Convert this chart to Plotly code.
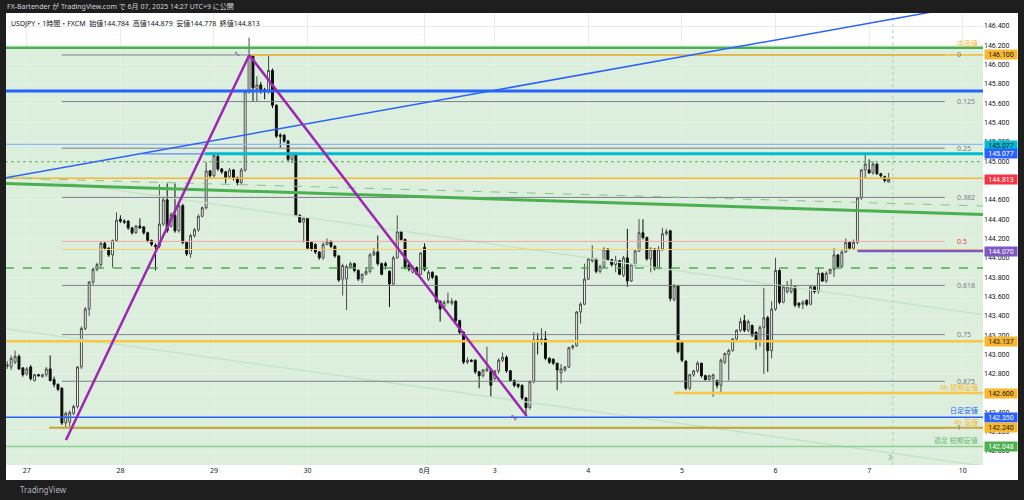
import plotly.graph_objects as go

# ---------------- candle data (USDJPY 1h) ----------------
open_ = [142.88,142.87,142.92,142.98,142.86,142.80,142.87,142.73,142.79,142.77,
         142.79,142.85,142.74,142.69,142.65,142.29,142.30,142.39,142.46,142.87,
         143.27,143.47,143.75,143.88,143.93,144.15,144.10,144.03,144.18,144.40,
         144.38,144.38,144.31,144.26,144.33,144.32,144.26,144.18,144.13,144.12,
         144.35,144.60,144.33,144.44,144.28,144.54,144.16,144.04,144.23,144.29,
         144.43,144.52,144.90,144.85,145.05,144.92,144.89,144.84,144.91,144.83,
         144.78,144.91,145.72,146.09,145.75,145.79,145.74,145.72,145.94,145.58,
         145.27,145.27,145.21,145.02,145.08,144.44,144.37,144.41,144.16,144.14,
         144.06,144.00,144.14,144.17,144.12,144.02,143.78,143.78,143.91,143.94,
         143.87,143.78,143.83,143.86,144.03,144.06,143.94,143.94,143.86,143.73,
         144.00,144.27,144.19,143.93,143.85,143.90,143.83,144.11,143.78,143.85,
         143.81,143.55,143.49,143.54,143.53,143.55,143.35,143.23,142.92,142.94,
         142.94,142.82,142.78,142.83,142.83,142.75,142.83,142.94,142.97,142.83,
         142.73,142.69,142.68,142.55,142.45,142.72,143.15,143.13,143.16,142.96,
         142.95,142.91,142.81,142.84,142.87,143.07,143.09,143.44,143.52,143.78,
         143.97,143.99,143.86,143.91,144.09,143.98,143.93,143.97,143.82,144.00,
         143.76,143.93,144.07,144.26,144.21,143.99,144.09,143.89,144.09,144.25,
         144.28,143.57,143.71,143.14,142.93,142.65,142.79,142.83,142.91,142.78,
         142.74,142.75,142.73,142.68,142.92,143.00,143.04,143.16,143.25,143.35,
         143.25,143.30,143.23,143.14,143.28,143.38,143.04,143.47,143.87,143.54,
         143.65,143.65,143.70,143.53,143.52,143.56,143.52,143.70,143.65,143.84,
         143.76,143.84,143.88,144.03,143.91,144.06,144.16,144.10,144.16,144.62,
         144.91,144.91,144.88,144.97,144.87,144.84,144.784]
high = [142.93,142.99,143.04,143.00,142.87,142.87,142.89,142.80,142.80,142.80,
        142.87,142.99,142.77,142.70,142.66,142.41,142.42,142.48,142.88,143.29,
        143.49,143.76,143.90,143.95,144.17,144.17,144.11,144.19,144.47,144.44,
        144.40,144.39,144.32,144.34,144.41,144.33,144.27,144.19,144.15,144.76,
        144.62,144.77,144.47,144.77,144.56,144.56,144.17,144.25,144.31,144.45,
        144.53,144.99,144.91,145.07,145.07,144.93,144.90,144.93,144.92,144.84,
        144.93,145.74,146.28,146.10,145.88,145.82,145.76,146.09,145.96,145.59,
        145.29,145.28,145.22,145.09,145.09,144.45,144.42,144.42,144.17,144.15,
        144.07,144.16,144.20,144.18,144.13,144.03,143.94,143.93,143.96,143.95,
        143.88,143.84,143.90,144.05,144.10,144.23,143.95,143.96,143.87,144.02,
        144.44,144.28,144.20,143.94,143.92,143.91,144.06,144.15,143.87,143.86,
        143.82,143.56,143.56,143.64,143.58,143.56,143.36,143.24,142.97,142.95,
        142.95,142.83,142.85,143.08,142.84,142.84,142.96,143.02,142.99,142.84,
        142.74,142.70,142.69,142.56,142.73,143.23,143.22,143.27,143.24,142.97,
        142.96,142.91,142.90,142.88,143.08,143.10,143.45,143.54,143.94,144.00,
        144.13,144.00,143.93,144.11,144.10,143.99,144.02,143.98,144.02,144.30,
        143.94,144.09,144.40,144.40,144.22,144.11,144.10,144.12,144.31,144.30,
        144.29,143.73,143.72,143.15,142.94,142.80,142.84,142.93,142.91,142.79,
        142.79,142.80,142.74,142.96,143.02,143.06,143.17,143.26,143.38,143.41,
        143.36,143.31,143.24,143.30,143.69,143.40,143.55,144.00,143.88,143.71,
        143.76,143.78,143.71,143.54,143.56,143.57,143.72,143.71,143.90,143.85,
        143.86,143.89,144.10,144.04,144.08,144.20,144.17,144.19,144.63,144.92,
        145.07,145.02,145.00,144.98,144.88,144.85,144.879]
low = [142.85,142.84,142.90,142.84,142.77,142.78,142.73,142.72,142.77,142.76,
       142.77,142.72,142.66,142.62,142.27,142.24,142.25,142.37,142.44,142.85,
       143.25,143.40,143.72,143.86,143.90,144.08,144.01,143.90,144.17,144.36,
       144.35,144.29,144.24,144.25,144.30,144.24,144.16,144.12,143.87,144.10,
       144.33,144.26,144.31,144.26,144.26,144.14,144.02,144.00,144.21,144.27,
       144.42,144.50,144.83,144.83,144.90,144.87,144.77,144.82,144.80,144.75,
       144.76,144.89,145.70,145.62,145.62,145.70,145.64,145.70,145.55,145.24,
       145.14,145.19,145.00,144.98,144.43,144.36,144.16,144.08,144.07,144.04,
       143.98,143.98,144.13,144.10,144.00,143.75,143.61,143.46,143.89,143.85,
       143.76,143.74,143.82,143.84,144.02,143.92,143.82,143.88,143.49,143.71,
       143.99,144.18,143.88,143.86,143.84,143.82,143.82,143.86,143.76,143.78,
       143.53,143.34,143.47,143.52,143.51,143.33,143.21,142.90,142.90,142.92,
       142.80,142.65,142.76,142.82,142.56,142.73,142.80,142.92,142.81,142.72,
       142.66,142.65,142.53,142.36,142.43,142.70,143.00,143.10,142.94,142.90,
       142.89,142.63,142.70,142.82,142.86,143.05,143.08,143.32,143.51,143.77,
       143.95,143.84,143.84,143.90,143.97,143.91,143.85,143.82,143.80,143.70,
       143.75,143.91,144.06,144.19,143.97,143.85,143.87,143.88,144.07,144.23,
       143.55,143.55,143.01,142.92,142.63,142.63,142.77,142.81,142.76,142.73,
       142.73,142.56,142.65,142.60,142.90,142.73,143.03,143.14,143.23,143.23,
       143.23,143.18,143.05,143.08,142.80,142.82,142.96,143.45,143.52,143.53,
       143.63,143.63,143.49,143.48,143.47,143.50,143.51,143.63,143.63,143.75,
       143.74,143.83,143.80,143.89,143.90,144.05,144.08,144.08,144.14,144.60,
       144.82,144.87,144.86,144.86,144.83,144.78,144.778]
close = [142.89,142.96,142.98,142.85,142.79,142.85,142.75,142.79,142.78,142.79,
         142.85,142.73,142.69,142.64,142.29,142.39,142.40,142.46,142.87,143.27,
         143.47,143.75,143.88,143.93,144.15,144.10,144.03,144.18,144.39,144.38,
         144.37,144.31,144.26,144.33,144.31,144.26,144.18,144.14,144.12,144.35,
         144.60,144.28,144.45,144.28,144.54,144.16,144.04,144.23,144.29,144.43,
         144.52,144.90,144.85,145.06,144.92,144.89,144.83,144.91,144.83,144.78,
         144.91,145.72,146.09,145.76,145.79,145.74,145.72,145.94,145.58,145.26,
         145.26,145.21,145.02,145.08,144.44,144.37,144.41,144.10,144.09,144.06,
         144.00,144.14,144.17,144.12,144.02,143.77,143.92,143.91,143.94,143.87,
         143.78,143.83,143.86,144.03,144.06,143.94,143.83,143.92,143.73,144.00,
         144.27,144.19,143.90,143.88,143.90,143.83,144.05,143.88,143.85,143.80,
         143.55,143.47,143.54,143.55,143.55,143.35,143.23,142.92,142.94,142.93,
         142.82,142.78,142.84,142.85,142.68,142.83,142.94,142.97,142.83,142.73,
         142.68,142.67,142.55,142.45,142.72,143.15,143.13,143.16,142.96,142.92,
         142.91,142.84,142.85,142.87,143.07,143.09,143.44,143.52,143.78,143.99,
         144.00,143.86,143.91,144.09,143.98,143.93,143.97,143.83,144.00,143.76,
         143.93,144.07,144.26,144.21,143.99,144.09,143.89,144.09,144.25,144.27,
         143.58,143.71,143.03,142.94,142.65,142.79,142.83,142.91,142.78,142.74,
         142.78,142.79,142.68,142.94,143.01,143.04,143.16,143.25,143.34,143.25,
         143.34,143.20,143.14,143.28,143.38,143.04,143.47,143.87,143.54,143.70,
         143.70,143.70,143.51,143.51,143.54,143.52,143.70,143.65,143.84,143.76,
         143.84,143.88,144.03,143.91,144.06,144.16,144.10,144.16,144.62,144.91,
         144.97,144.88,144.97,144.87,144.85,144.80,144.813]

# time axis labels (candle index of each day start)
day_ticks = [5, 29, 53, 77, 107, 125, 149, 173, 197, 221, 245]
day_labels = ['27', '28', '29', '30', '6月', '3', '4', '5', '6', '7', '10']
y_ticks = [142.0, 142.2, 142.4, 142.6, 142.8, 143.0, 143.2, 143.4, 143.6, 143.8,
           144.0, 144.2, 144.4, 144.6, 144.8, 145.0, 145.2, 145.4, 145.6, 145.8,
           146.0, 146.2, 146.4]

# Fibonacci retracement
fib_ratios = [0, 0.125, 0.25, 0.382, 0.5, 0.618, 0.75, 0.875, 1]
fib_labels = ['0', '0.125', '0.25', '0.382', '0.5', '0.618', '0.75', '0.875', '1']
fib_high, fib_low = 146.100, 142.240
fib_start, fib_end = 14.0, 240.4

# horizontal levels: name -> price, start index
level_names = ['range_top', 'mid_high', 'blue_thick', 'blue_light', 'blue_145', 'cyan_145',
               'green_dot', 'gold_last', 'gold_thin', 'purple', 'green_dash', 'gold_143',
               'gold_4h_short', 'blue_daily', 'gold_4h_low', 'green_weekly']
level_prices = [146.175, 146.100, 145.727, 145.175, 145.077, 145.077,
                144.995, 144.823, 144.086, 144.070, 143.895, 143.137,
                142.600, 142.350, 142.240, 142.048]
level_starts = [-0.6, 62.0, -0.6, -0.6, 34.8, 50.7,
                -0.6, -0.6, 14.0, 218.0, -0.6, -0.6,
                171.0, -0.6, 10.7, -0.6]

# trend lines: (index, price) endpoints
blue_trend = [(-0.6, 144.827), (250.2, 146.640)]
green_trend = [(-0.6, 144.770), (250.2, 144.449)]
green_dash_trend = [(-0.6, 144.827), (250.2, 144.537)]
faint_upper = [(-0.6, 144.868), (250.2, 143.412)]
faint_lower = [(-0.6, 143.267), (250.2, 141.845)]
zigzag = [(15.05, 142.114), (62.05, 146.100), (133.2, 142.363)]
session_break = 227.1

# price tags on the right scale
tag_prices = [146.100, 145.168, 145.077, 144.813, 144.070, 143.137, 142.600, 142.350, 142.240, 142.048]
tag_texts = ['146.100', '145.077', '145.077', '144.813', '144.070', '143.137', '142.600', '142.350', '142.240', '142.048']
tag_bg = ['#f9b730', '#00bcd4', '#2962ff', '#f23645', '#7e57c2', '#f9b730', '#f9b730', '#2962ff', '#f9b730', '#4caf50']
tag_fg = ['#131722', '#131722', '#ffffff', '#ffffff', '#ffffff', '#131722', '#131722', '#ffffff', '#131722', '#ffffff']

# small right-side text labels
side_texts = ['中高値', '4h 短期安値', '日足安値', '4h 安値', '週足 短期安値']
side_prices = [146.22, 142.655, 142.415, 142.300, 142.105]
side_colors = ['#f9b730', '#f9b730', '#2962ff', '#f9b730', '#66bb6a']

X_MIN, X_MAX = -0.33, 250.2
Y_MIN, Y_MAX = 141.8555, 146.5346

fig = go.Figure()
fig.add_trace(go.Candlestick(
    x=list(range(len(open_))), open=open_, high=high, low=low, close=close,
    increasing=dict(fillcolor='#ffffff', line=dict(color='#4a4a4a', width=1)),
    decreasing=dict(fillcolor='#0d0d0d', line=dict(color='#0d0d0d', width=1)),
    whiskerwidth=0, hoverinfo='skip', showlegend=False))

shapes = []
# white panel
shapes.append(dict(type='rect', xref='paper', yref='paper', x0=0, x1=(1018 - 6) / 977,
                   y0=(465 - 480) / 452, y1=1.0, fillcolor='#ffffff', line=dict(width=0), layer='below'))
# green zone
shapes.append(dict(type='rect', xref='x', yref='y', x0=-1, x1=X_MAX, y0=141.0, y1=level_prices[0],
                   fillcolor='rgba(76,175,80,0.2)', line=dict(width=0), layer='below'))

def seg(x0, y0, x1, y1, color, width, dash='solid'):
    shapes.append(dict(type='line', xref='x', yref='y', x0=x0, y0=y0, x1=x1, y1=y1,
                       line=dict(color=color, width=width, dash=dash), layer='above'))

# faint lines & session break first
seg(faint_upper[0][0], faint_upper[0][1], faint_upper[1][0], faint_upper[1][1], '#c4e2c5', 1.3)
seg(faint_lower[0][0], faint_lower[0][1], faint_lower[1][0], faint_lower[1][1], '#c4e2c5', 1.3)
shapes.append(dict(type='line', xref='x', yref='paper', x0=session_break, x1=session_break, y0=0, y1=1,
                   line=dict(color='#a5d6a7', width=1, dash='dot'), layer='above'))

# fib
for r, lab in zip(fib_ratios, fib_labels):
    p = fib_high - (fib_high - fib_low) * r
    col = '#f7a4a4' if lab == '0.5' else '#7c8089'
    seg(fib_start, p, fib_end, p, col, 1)

styles = {
    'range_top': ('#4caf50', 2.5, 'solid'),
    'mid_high': ('#f9b730', 1.5, 'solid'),
    'blue_thick': ('#2962ff', 3, 'solid'),
    'blue_light': ('#90b8f8', 1.2, 'solid'),
    'blue_145': ('#5b8cff', 1.2, 'solid'),
    'cyan_145': ('#00bcd4', 3, 'solid'),
    'green_dot': ('#4caf50', 1.2, 'dot'),
    'gold_last': ('#f9b730', 1.5, 'solid'),
    'gold_thin': ('#f7cf6d', 1, 'solid'),
    'purple': ('#7e57c2', 2.5, 'solid'),
    'green_dash': ('#4caf50', 1.5, 'dash'),
    'gold_143': ('#f7c548', 2.5, 'solid'),
    'gold_4h_short': ('#f7c548', 2.5, 'solid'),
    'blue_daily': ('#2962ff', 1.5, 'solid'),
    'gold_4h_low': ('#c9a43a', 2, 'solid'),
    'green_weekly': ('#8fcf92', 1.5, 'solid'),
}
for name, p, s in zip(level_names, level_prices, level_starts):
    c, w, d = styles[name]
    seg(s, p, X_MAX, p, c, w, d)

seg(green_dash_trend[0][0], green_dash_trend[0][1], green_dash_trend[1][0], green_dash_trend[1][1], '#81c784', 1, 'dash')
seg(green_trend[0][0], green_trend[0][1], green_trend[1][0], green_trend[1][1], '#4caf50', 3)
seg(blue_trend[0][0], blue_trend[0][1], blue_trend[1][0], blue_trend[1][1], '#2962ff', 1.5)
for (a, b), (c, d) in zip(zigzag[:-1], zigzag[1:]):
    seg(a, b, c, d, '#9c27b0', 2.5)

annotations = []
FONT = 'Noto Sans, Noto Sans CJK JP, sans-serif'
# fib labels
for r, lab in zip(fib_ratios, fib_labels):
    p = fib_high - (fib_high - fib_low) * r
    annotations.append(dict(xref='paper', yref='y', x=(955 - 6) / 977, y=p, xanchor='left', yanchor='middle',
                            text=lab, showarrow=False,
                            font=dict(family=FONT, size=7, color='#f23645' if lab == '0.5' else '#787b86')))
# side texts
for t, p, c in zip(side_texts, side_prices, side_colors):
    annotations.append(dict(xref='paper', yref='y', x=(980 - 6) / 977, y=p, xanchor='right', yanchor='middle',
                            text=t, showarrow=False, font=dict(family=FONT, size=7, color=c)))
# price tags
for p, t, bg, fg in zip(tag_prices, tag_texts, tag_bg, tag_fg):
    annotations.append(dict(xref='paper', yref='y', x=(984 - 6) / 977, y=p, xanchor='left', yanchor='middle',
                            text=t, showarrow=False, bgcolor=bg, width=32, height=9, borderpad=0,
                            font=dict(family='Roboto, sans-serif', size=7, color=fg)))
# zigzag point labels
annotations.append(dict(xref='x', yref='y', x=zigzag[1][0] - 3.2, y=zigzag[1][1] + 0.02, text='1', showarrow=False,
                        textangle=-40, font=dict(family=FONT, size=8, color='#9c27b0')))
annotations.append(dict(xref='x', yref='y', x=zigzag[2][0] - 3.3, y=zigzag[2][1] - 0.01, text='2', showarrow=False,
                        textangle=-60, font=dict(family=FONT, size=8, color='#9c27b0')))
annotations.append(dict(xref='x', yref='y', x=session_break - 0.7, y=141.93, text='3', showarrow=False,
                        font=dict(family=FONT, size=7, color='#8a9a8c')))
# header / legend / footer
annotations.append(dict(xref='paper', yref='paper', x=(5 - 6) / 977, y=(465 - 6.5) / 452, xanchor='left',
                        yanchor='middle', showarrow=False,
                        text='FX-Bartender が TradingView.com で 6月 07, 2025 14:27 UTC+9 に公開',
                        font=dict(family=FONT, size=7, color='#d1d4dc')))
annotations.append(dict(xref='paper', yref='paper', x=(9 - 6) / 977, y=(465 - 23.5) / 452, xanchor='left',
                        yanchor='middle', showarrow=False,
                        text='USDJPY・1時間・FXCM  始値144.784  高値144.879  安値144.778  終値144.813',
                        font=dict(family=FONT, size=7, color='#131722')))
annotations.append(dict(xref='paper', yref='paper', x=(18 - 6) / 977, y=(465 - 490) / 452, xanchor='left',
                        yanchor='middle', showarrow=False, text='TradingView',
                        font=dict(family=FONT, size=8, color='#b2b5be')))

fig.update_layout(
    width=1024, height=500,
    margin=dict(l=6, r=41, t=13, b=35),
    paper_bgcolor='#1e1e1e', plot_bgcolor='#ffffff',
    showlegend=False, hovermode=False,
    shapes=shapes, annotations=annotations,
    xaxis=dict(range=[X_MIN, X_MAX], tickmode='array', tickvals=day_ticks, ticktext=day_labels,
               showgrid=True, gridcolor='#e6eee8', gridwidth=1, zeroline=False, showline=False,
               ticks='', rangeslider=dict(visible=False), fixedrange=True,
               tickfont=dict(family=FONT, size=7, color='#131722')),
    yaxis=dict(range=[Y_MIN, Y_MAX], side='right', tickmode='array', tickvals=y_ticks, tickformat='.3f',
               showgrid=True, gridcolor='#e6eee8', gridwidth=1, zeroline=False, showline=False,
               ticks='', fixedrange=True, tickfont=dict(family='Roboto, sans-serif', size=7, color='#131722')),
)

fig.write_html('out.html', config={'displayModeBar': False},
               post_script="document.body.style.margin='0';document.body.style.background='#1e1e1e';")
